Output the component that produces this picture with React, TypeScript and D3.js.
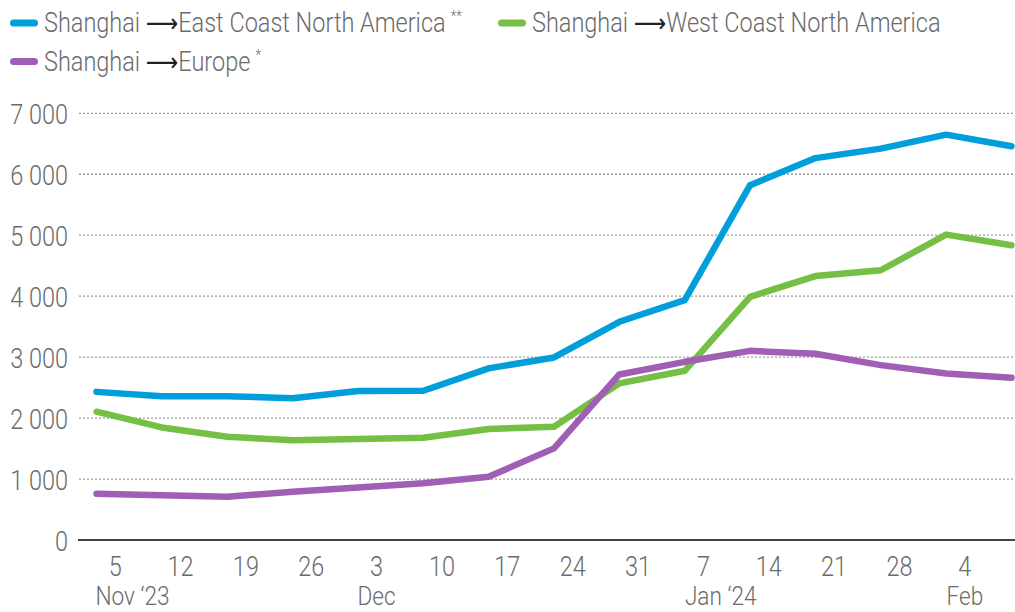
import React, { useRef, useEffect } from "react";
import * as d3 from "d3";

// weekly freight rate readings (USD per 40ft container)
const weekStarts = [
  "2023-11-03", "2023-11-10", "2023-11-17", "2023-11-24", "2023-12-01",
  "2023-12-08", "2023-12-15", "2023-12-22", "2023-12-29", "2024-01-05",
  "2024-01-12", "2024-01-19", "2024-01-26", "2024-02-02", "2024-02-09",
];
const eastCoast = [2430, 2360, 2360, 2325, 2445, 2448, 2815, 2995, 3580, 3935, 5820, 6265, 6420, 6650, 6460];
const westCoast = [2105, 1847, 1695, 1635, 1655, 1677, 1820, 1858, 2570, 2776, 3990, 4330, 4425, 5010, 4835];
const europe = [760, 733, 710, 792, 860, 930, 1038, 1503, 2716, 2923, 3103, 3055, 2869, 2732, 2661];

const yTicks = [0, 1000, 2000, 3000, 4000, 5000, 6000, 7000];
const monthLabels = [
  { date: "2023-11-05", month: "Nov", year: " \u201823" },
  { date: "2023-12-03", month: "Dec", year: "" },
  { date: "2024-01-07", month: "Jan", year: " \u201824" },
  { date: "2024-02-04", month: "Feb", year: "" },
];

const series = [
  { name: "East Coast North America", note: "**", values: eastCoast, color: "#009fdb" },
  { name: "West Coast North America", note: "", values: westCoast, color: "#74bf44" },
  { name: "Europe", note: "*", values: europe, color: "#a05eb5" },
];

const App = () => {
  const ref = useRef<SVGSVGElement>(null);

  useEffect(() => {
    const width = 1015;
    const height = 612;
    const sx = 0.87; // squeeze to look like a condensed face
    const font = "Roboto, 'Liberation Sans', sans-serif";
    const grey = "#6b6b6b";

    const svg = d3.select(ref.current).attr("width", width).attr("height", height);
    svg.selectAll("*").remove();

    const parse = d3.timeParse("%Y-%m-%d");
    const dates = weekStarts.map((d) => parse(d) as Date);

    const x = d3.scaleTime().domain([dates[0], dates[dates.length - 1]]).range([96.5, 1011.5]);
    const y = d3.scaleLinear().domain([0, 7000]).range([540, 113.3]);

    // grid
    svg
      .append("g")
      .selectAll("line")
      .data(yTicks.filter((t) => t > 0))
      .join("line")
      .attr("x1", 79)
      .attr("x2", width)
      .attr("y1", (d) => y(d))
      .attr("y2", (d) => y(d))
      .attr("stroke", "#9a9a9a")
      .attr("stroke-width", 1.3)
      .attr("stroke-dasharray", "2 2");

    // y labels
    svg
      .append("g")
      .selectAll("text")
      .data(yTicks)
      .join("text")
      .attr("transform", (d) => `translate(68,${y(d) + 10.5}) scale(${sx},1)`)
      .attr("text-anchor", "end")
      .attr("font-family", font)
      .attr("font-weight", 300)
      .attr("font-size", 27)
      .attr("fill", grey)
      .text((d) => (d === 0 ? "0" : d3.format(",")(d).replace(",", " ")));

    // zero line
    svg
      .append("line")
      .attr("x1", 78)
      .attr("x2", width)
      .attr("y1", y(0))
      .attr("y2", y(0))
      .attr("stroke", "#444")
      .attr("stroke-width", 2);

    // x day ticks
    const ticks = d3.timeWeek.range(parse("2023-11-05") as Date, parse("2024-02-05") as Date);
    svg
      .append("g")
      .selectAll("text")
      .data(ticks)
      .join("text")
      .attr("transform", (d) => `translate(${x(d)},576) scale(${sx},1)`)
      .attr("text-anchor", "middle")
      .attr("font-family", font)
      .attr("font-weight", 300)
      .attr("font-size", 27)
      .attr("fill", grey)
      .text((d) => d3.timeFormat("%-d")(d));

    // month labels: month name centred on the tick, year hangs to the right
    monthLabels.forEach((m) => {
      const t = svg
        .append("text")
        .attr("transform", `translate(${x(parse(m.date) as Date)},605) scale(${sx},1)`)
        .attr("font-family", font)
        .attr("font-weight", 300)
        .attr("font-size", 26)
        .attr("fill", grey)
        .text(m.month + m.year);
      const probe = svg.append("text").attr("font-family", font).attr("font-weight", 300).attr("font-size", 26).text(m.month);
      const w = (probe.node() as SVGTextElement).getComputedTextLength();
      probe.remove();
      t.attr("x", -w / 2);
    });

    // lines
    const line = d3
      .line<number>()
      .x((_, i) => x(dates[i]))
      .y((d) => y(d));

    series.forEach((s) => {
      svg
        .append("path")
        .attr("d", line(s.values))
        .attr("fill", "none")
        .attr("stroke", s.color)
        .attr("stroke-width", 6.5)
        .attr("stroke-linecap", "round")
        .attr("stroke-linejoin", "round");
    });

    // legend
    const legendPos = [
      { x: 10, y: 23 },
      { x: 498, y: 23 },
      { x: 10, y: 61.5 },
    ];
    series.forEach((s, i) => {
      const p = legendPos[i];
      const g = svg.append("g").attr("transform", `translate(${p.x},${p.y})`);
      g.append("rect")
        .attr("x", 0)
        .attr("y", -3.5)
        .attr("width", 28)
        .attr("height", 7)
        .attr("rx", 3.5)
        .attr("fill", s.color);
      const t = g
        .append("text")
        .attr("transform", `translate(34,9) scale(${sx},1)`)
        .attr("font-family", font)
        .attr("font-weight", 300)
        .attr("font-size", 27)
        .attr("fill", grey);
      t.append("tspan").text("Shanghai ");
      t.append("tspan").attr("font-family", "'DejaVu Sans'").attr("font-weight", 400).attr("font-size", 26).attr("fill", "#222").text("\u27f6");
      t.append("tspan").text(s.name);
      if (s.note) {
        t.append("tspan").attr("font-size", 15).attr("dx", 6).attr("dy", -11).text(s.note);
      }
    });
  }, []);

  return <svg ref={ref} style={{ position: "absolute", left: 0, top: 0, background: "#fff" }}></svg>;
};

export default App;
